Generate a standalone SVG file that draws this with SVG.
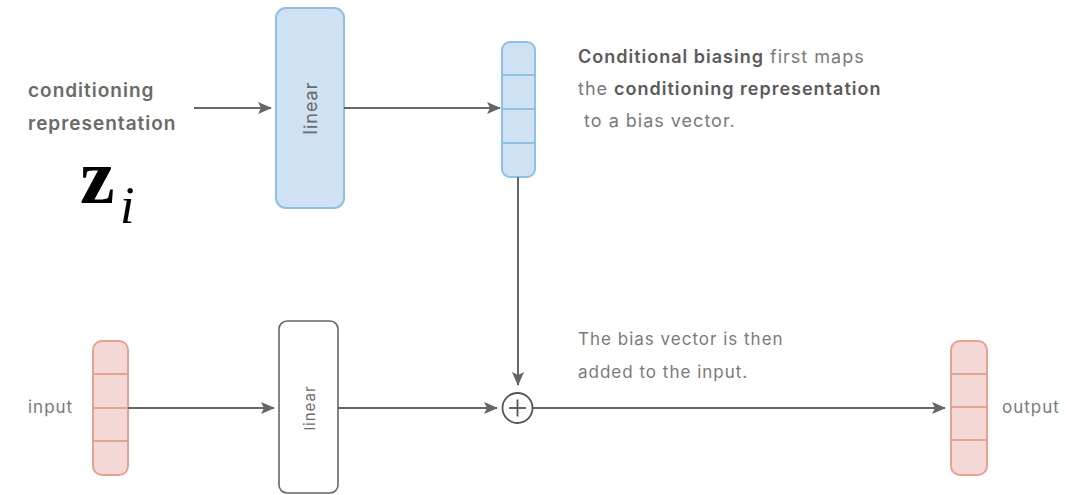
<svg xmlns="http://www.w3.org/2000/svg" width="1066" height="495" viewBox="0 0 1066 495">
<defs>
<marker id="arr" markerUnits="userSpaceOnUse" markerWidth="14" markerHeight="12" refX="13" refY="6" orient="auto">
<path d="M0,0 L14,6 L0,12 L3,6 Z" fill="#666"/>
</marker>
<style>
.lbl{font-family:Inter,"Liberation Sans",Arial,sans-serif;fill:#6a6a6a;letter-spacing:1px}
.b{font-weight:600}
.reg{fill:#7a7a7a}
.conn{stroke:#666;stroke-width:2;fill:none}
.blue{fill:#cfe2f3;stroke:#8fbfe3;stroke-width:2}
.red{fill:#f3d8d5;stroke:#e3a393;stroke-width:2}
.div-b{stroke:#8fbfe3;stroke-width:2}
.div-r{stroke:#e3a393;stroke-width:2}
</style>
</defs>
<rect width="1066" height="495" fill="#ffffff"/>

<g id="cond-label">
<text class="lbl b" x="28" y="97" font-size="19">conditioning</text>
<text class="lbl b" x="28" y="130" font-size="19">representation</text>
</g>
<g id="zi">
<text x="80" y="203" font-family="Liberation Serif,serif" font-weight="bold" font-size="78" fill="#000">z</text>
<text x="120" y="223" font-family="Liberation Serif,serif" font-style="italic" font-size="52" fill="#000">i</text>
</g>

<g id="linear-top">
<rect class="blue" x="276" y="8" width="68" height="200" rx="10"/>
<text class="lbl" font-size="18" fill="#777" transform="translate(310,108) rotate(-90)" text-anchor="middle" dominant-baseline="central">linear</text>
</g>

<g id="bias-vector">
<rect class="blue" x="502" y="42" width="33" height="135" rx="8"/>
<line class="div-b" x1="502" y1="75" x2="535" y2="75"/>
<line class="div-b" x1="502" y1="109" x2="535" y2="109"/>
<line class="div-b" x1="502" y1="143" x2="535" y2="143"/>
</g>

<g id="desc-top">
<text class="lbl" font-size="18" x="578" y="63"><tspan class="b" fill="#5a5a5a">Conditional biasing</tspan><tspan class="reg"> first maps</tspan></text>
<text class="lbl" font-size="18" x="578" y="95"><tspan class="reg">the </tspan><tspan class="b" fill="#5a5a5a">conditioning representation</tspan></text>
<text class="lbl reg" font-size="18" x="578" y="127" xml:space="preserve"> to a bias vector.</text>
</g>

<g id="input-label">
<text class="lbl reg" font-size="17" x="28" y="413">input</text>
</g>
<g id="input-vector">
<rect class="red" x="93" y="341" width="35" height="134" rx="9"/>
<line class="div-r" x1="93" y1="374" x2="128" y2="374"/>
<line class="div-r" x1="93" y1="408" x2="128" y2="408"/>
<line class="div-r" x1="93" y1="441" x2="128" y2="441"/>
</g>

<g id="linear-bottom">
<rect x="279" y="321" width="59" height="172" rx="8" fill="#fff" stroke="#666" stroke-width="1.6"/>
<text class="lbl" font-size="15" fill="#888" transform="translate(309,408) rotate(-90)" text-anchor="middle" dominant-baseline="central">linear</text>
</g>

<g id="plus">
<circle cx="517.5" cy="408" r="15" fill="#fff" stroke="#555" stroke-width="1.8"/>
<line x1="509" y1="408" x2="526" y2="408" stroke="#555" stroke-width="1.8"/>
<line x1="517.5" y1="399.5" x2="517.5" y2="416.5" stroke="#555" stroke-width="1.8"/>
</g>

<g id="desc-bottom">
<text class="lbl reg" font-size="17" x="578" y="345">The bias vector is then</text>
<text class="lbl reg" font-size="17" x="578" y="378">added to the input.</text>
</g>

<g id="output-vector">
<rect class="red" x="951" y="341" width="36" height="134" rx="9"/>
<line class="div-r" x1="951" y1="374" x2="987" y2="374"/>
<line class="div-r" x1="951" y1="407" x2="987" y2="407"/>
<line class="div-r" x1="951" y1="440" x2="987" y2="440"/>
</g>
<g id="output-label">
<text class="lbl reg" font-size="17" x="1002" y="413">output</text>
</g>

<g id="connectors">
<line class="conn" x1="194" y1="108" x2="271" y2="108" marker-end="url(#arr)"/>
<line class="conn" x1="344" y1="108" x2="500" y2="108" marker-end="url(#arr)"/>
<line class="conn" x1="518" y1="177" x2="518" y2="385" marker-end="url(#arr)"/>
<line class="conn" x1="128" y1="408" x2="274" y2="408" marker-end="url(#arr)"/>
<line class="conn" x1="338" y1="408" x2="497" y2="408" marker-end="url(#arr)"/>
<line class="conn" x1="533" y1="408" x2="945" y2="408" marker-end="url(#arr)"/>
</g>
</svg>
